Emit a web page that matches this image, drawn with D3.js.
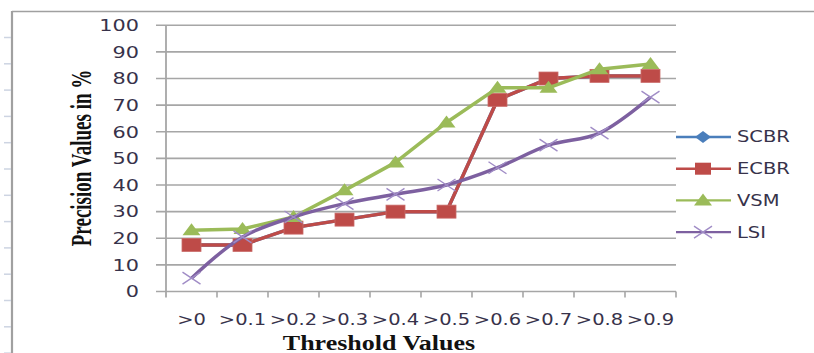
<!DOCTYPE html>
<html>
<head>
<meta charset="utf-8">
<script src="https://cdn.jsdelivr.net/npm/d3@7/dist/d3.min.js"></script>
<style>
  html, body { margin: 0; padding: 0; background: #fff; }
  svg { display: block; }
</style>
</head>
<body>
<svg id="chart" width="814" height="353"></svg>
<script>
// Threshold categories and precision values (%) per method
const thresholds = [">0", ">0.1", ">0.2", ">0.3", ">0.4", ">0.5", ">0.6", ">0.7", ">0.8", ">0.9"];
const scbr = [17.5, 17.5, 24, 27, 30, 30, 72, 80, 81, 81];
const ecbr = [17.5, 17.5, 24, 27, 30, 30, 72, 80, 81, 81];
const vsm  = [23, 23.5, 28, 38, 48.5, 63.5, 76.5, 76.5, 83.5, 85.5];
const lsi  = [5, 20.5, 28, 33, 36.5, 40, 46.5, 55, 59.5, 73];
const yTicks = [0, 10, 20, 30, 40, 50, 60, 70, 80, 90, 100];

const series = [
  { name: "SCBR", values: scbr, color: "#4a7ebb", marker: "diamond", smooth: false },
  { name: "ECBR", values: ecbr, color: "#be4b48", marker: "square", smooth: false },
  { name: "VSM",  values: vsm,  color: "#9bbb59", marker: "triangle", smooth: false },
  { name: "LSI",  values: lsi,  color: "#7d60a0", marker: "cross", smooth: true }
];

const svg = d3.select("#chart");
const textColor = "#37324a";
const gridColor = "#a6a6a6";
const fontFam = "'DejaVu Sans', Verdana, sans-serif";
const serifFam = "'Liberation Serif', 'Times New Roman', serif";
const stretch = 1.3;

const x = d3.scaleBand().domain(thresholds).range([166, 676]);
const y = d3.scaleLinear().domain([0, 100]).range([291.5, 25.3]);
const cx = c => x(c) + x.bandwidth() / 2;

// outer frame (top and left edges) with faint ruler ticks
svg.append("line").attr("x1", 12).attr("x2", 814).attr("y1", 11.5).attr("y2", 11.5)
  .attr("stroke", "#a0a0a0").attr("stroke-width", 1.6);
svg.append("line").attr("x1", 12).attr("x2", 12).attr("y1", 11).attr("y2", 353)
  .attr("stroke", "#a0a0a0").attr("stroke-width", 2.2);
svg.append("g").selectAll("line").data(d3.range(13)).join("line")
  .attr("x1", 4).attr("x2", 11)
  .attr("y1", i => 37.5 + i * 26.3).attr("y2", i => 37.5 + i * 26.3)
  .attr("stroke", "#cdd4e2").attr("stroke-width", 1.5);

// horizontal gridlines
svg.append("g").selectAll("line").data(yTicks).join("line")
  .attr("x1", 156).attr("x2", 676)
  .attr("y1", d => y(d)).attr("y2", d => y(d))
  .attr("stroke", gridColor).attr("stroke-width", 1.6);

// y axis line
svg.append("line").attr("x1", 166).attr("x2", 166).attr("y1", y(100)).attr("y2", y(0) + 6)
  .attr("stroke", gridColor).attr("stroke-width", 1.8);

// x axis ticks at category boundaries
const bounds = thresholds.map(c => x(c)).concat([x.range()[1]]);
svg.append("g").selectAll("line").data(bounds.slice(1)).join("line")
  .attr("x1", d => d).attr("x2", d => d)
  .attr("y1", y(0)).attr("y2", y(0) + 6)
  .attr("stroke", gridColor).attr("stroke-width", 1.6);

// y tick labels
svg.append("g").selectAll("text").data(yTicks).join("text")
  .attr("transform", d => `translate(139,${y(d)}) scale(${stretch},1)`)
  .attr("text-anchor", "end").attr("dy", "0.36em")
  .attr("font-family", fontFam).attr("font-size", 16)
  .attr("fill", textColor).text(d => d);

// x tick labels
svg.append("g").selectAll("text").data(thresholds).join("text")
  .attr("transform", d => `translate(${cx(d)},325) scale(${stretch},1)`)
  .attr("text-anchor", "middle")
  .attr("font-family", fontFam).attr("font-size", 15)
  .attr("fill", textColor).text(d => d);

// axis titles
svg.append("text")
  .attr("transform", `translate(91,158) scale(1.5,1) rotate(-90)`)
  .attr("text-anchor", "middle")
  .attr("font-family", serifFam)
  .attr("font-weight", "bold").attr("font-size", 19)
  .attr("fill", "#111").text("Precision Values in %");
svg.append("text")
  .attr("transform", `translate(379,350) scale(${stretch},1)`)
  .attr("text-anchor", "middle")
  .attr("font-family", serifFam)
  .attr("font-weight", "bold").attr("font-size", 20)
  .attr("fill", "#111").text("Threshold Values");

// marker drawing
function drawMarker(g, type, color) {
  if (type === "diamond") {
    g.append("path").attr("d", "M0,-6L8,0L0,6L-8,0Z").attr("fill", color);
  } else if (type === "square") {
    g.append("rect").attr("x", -9.5).attr("y", -6.5).attr("width", 19).attr("height", 13)
      .attr("fill", color).attr("stroke", "#c96a68").attr("stroke-width", 0.8);
  } else if (type === "triangle") {
    g.append("path").attr("d", "M0,-7L9,5L-9,5Z").attr("fill", color);
  } else if (type === "cross") {
    g.append("path").attr("d", "M-9,-6L9,6M-9,6L9,-6")
      .attr("stroke", "#a08cc6").attr("stroke-width", 1.4).attr("fill", "none");
  }
}

// series lines and markers
series.forEach(s => {
  const line = d3.line()
    .x((d, i) => cx(thresholds[i]))
    .y(d => y(d))
    .curve(s.smooth ? d3.curveCatmullRom.alpha(0.5) : d3.curveLinear);
  const g = svg.append("g");
  g.append("path").datum(s.values).attr("d", line)
    .attr("fill", "none").attr("stroke", s.color).attr("stroke-width", 3.5)
    .attr("stroke-linejoin", "round");
  s.values.forEach((v, i) => {
    const m = g.append("g").attr("transform", `translate(${cx(thresholds[i])},${y(v)})`);
    drawMarker(m, s.marker, s.color);
  });
});

// legend
const legend = svg.append("g");
series.forEach((s, i) => {
  const ly = 137 + i * 31.7;
  legend.append("line").attr("x1", 676).attr("x2", 731).attr("y1", ly).attr("y2", ly)
    .attr("stroke", s.color).attr("stroke-width", 2.4);
  const m = legend.append("g").attr("transform", `translate(703,${ly})`);
  if (s.marker === "square") {
    m.append("rect").attr("x", -8).attr("y", -6).attr("width", 16).attr("height", 12).attr("fill", s.color);
  } else {
    drawMarker(m, s.marker, s.color);
  }
  legend.append("text")
    .attr("transform", `translate(737,${ly}) scale(${stretch},1)`)
    .attr("dy", "0.36em")
    .attr("font-family", fontFam).attr("font-size", 15)
    .attr("fill", textColor).text(s.name);
});
</script>
</body>
</html>
